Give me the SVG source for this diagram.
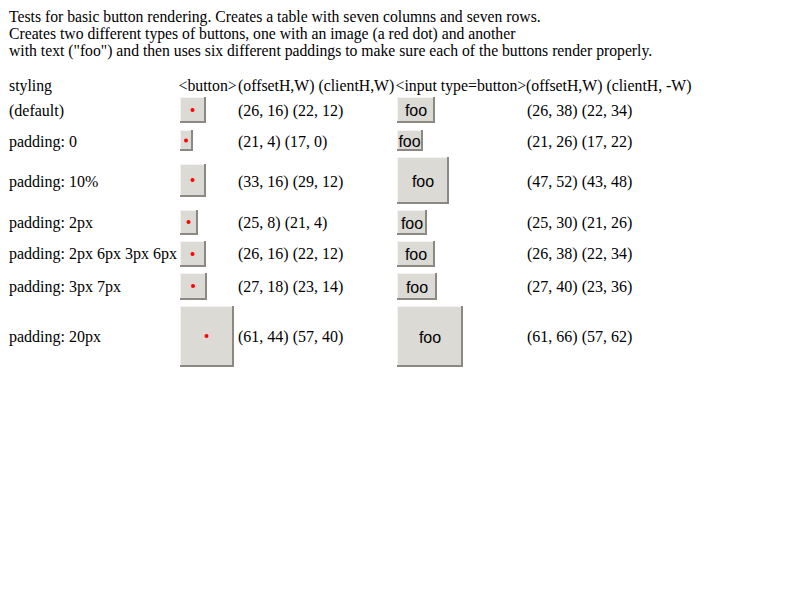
<svg xmlns="http://www.w3.org/2000/svg" width="800" height="600" viewBox="0 0 800 600">
<style>
.t{font-family:"Liberation Serif","Times New Roman",serif;font-size:16px;fill:#000}
.i{font-family:"Liberation Serif","Times New Roman",serif;font-size:15.7px;fill:#000}
.h{font-family:"Liberation Serif","Times New Roman",serif;font-size:15.8px;fill:#000}
.f{font-family:"Liberation Sans",Arial,sans-serif;font-size:16px;fill:#000;text-anchor:middle}
.dk{fill:#8c8982}
.lt{fill:#f4f3f1}
.bg{fill:#dcdad5}
.dot{fill:#ff0000}
</style>
<rect width="800" height="600" fill="#ffffff"/>
<g id="intro">
<text class="i" x="9" y="22">Tests for basic button rendering. Creates a table with seven columns and seven rows.</text>
<text class="i" x="9" y="39">Creates two different types of buttons, one with an image (a red dot) and another</text>
<text class="i" x="9" y="56">with text ("foo") and then uses six different paddings to make sure each of the buttons render properly.</text>
</g>
<g id="header">
<text class="h" x="9" y="91">styling</text>
<text class="h" x="178.5" y="91">&lt;button&gt;</text>
<text class="h" x="238" y="91">(offsetH,W) (clientH,W)</text>
<text class="h" x="395.5" y="91">&lt;input type=button&gt;</text>
<text class="h" x="526" y="91">(offsetH,W) (clientH, -W)</text>
</g>
<g id="labels">
<text class="t" x="9" y="116">(default)</text>
<text class="t" x="9" y="147">padding: 0</text>
<text class="t" x="9" y="187">padding: 10%</text>
<text class="t" x="9" y="228">padding: 2px</text>
<text class="t" x="9" y="259">padding: 2px 6px 3px 6px</text>
<text class="t" x="9" y="292">padding: 3px 7px</text>
<text class="t" x="9" y="342">padding: 20px</text>
</g>
<g id="values">
<text class="t" x="238" y="116">(26, 16) (22, 12)</text>
<text class="t" x="238" y="147">(21, 4) (17, 0)</text>
<text class="t" x="238" y="187">(33, 16) (29, 12)</text>
<text class="t" x="238" y="228">(25, 8) (21, 4)</text>
<text class="t" x="238" y="259">(26, 16) (22, 12)</text>
<text class="t" x="238" y="292">(27, 18) (23, 14)</text>
<text class="t" x="238" y="342">(61, 44) (57, 40)</text>
<text class="t" x="527" y="116">(26, 38) (22, 34)</text>
<text class="t" x="527" y="147">(21, 26) (17, 22)</text>
<text class="t" x="527" y="187">(47, 52) (43, 48)</text>
<text class="t" x="527" y="228">(25, 30) (21, 26)</text>
<text class="t" x="527" y="259">(26, 38) (22, 34)</text>
<text class="t" x="527" y="292">(27, 40) (23, 36)</text>
<text class="t" x="527" y="342">(61, 66) (57, 62)</text>
</g>
<g id="image-buttons">
<g id="btn1"><rect class="dk" x="180" y="97" width="26" height="26"/><rect class="lt" x="180" y="97" width="24" height="24"/><rect class="bg" x="181" y="98" width="23" height="23"/><circle class="dot" cx="192.5" cy="110" r="2"/></g>
<g id="btn2"><rect class="dk" x="180" y="130" width="13" height="21"/><rect class="lt" x="180" y="130" width="11" height="19"/><rect class="bg" x="181" y="131" width="10" height="18"/><circle class="dot" cx="186" cy="140.5" r="2"/></g>
<g id="btn3"><rect class="dk" x="180" y="164" width="26" height="33"/><rect class="lt" x="180" y="164" width="24" height="31"/><rect class="bg" x="181" y="165" width="23" height="30"/><circle class="dot" cx="192.5" cy="180" r="2"/></g>
<g id="btn4"><rect class="dk" x="180" y="210" width="18" height="25"/><rect class="lt" x="180" y="210" width="16" height="23"/><rect class="bg" x="181" y="211" width="15" height="22"/><circle class="dot" cx="188.5" cy="222" r="2"/></g>
<g id="btn5"><rect class="dk" x="180" y="241" width="26" height="26"/><rect class="lt" x="180" y="241" width="24" height="24"/><rect class="bg" x="181" y="242" width="23" height="23"/><circle class="dot" cx="192.5" cy="254" r="2"/></g>
<g id="btn6"><rect class="dk" x="180" y="273" width="27" height="27"/><rect class="lt" x="180" y="273" width="25" height="25"/><rect class="bg" x="181" y="274" width="24" height="24"/><circle class="dot" cx="193" cy="286" r="2"/></g>
<g id="btn7"><rect class="dk" x="180" y="306" width="54" height="61"/><rect class="lt" x="180" y="306" width="52" height="59"/><rect class="bg" x="181" y="307" width="51" height="58"/><circle class="dot" cx="206.5" cy="336" r="2"/></g>
</g>
<g id="input-buttons">
<g id="in1"><rect class="dk" x="397" y="97" width="38" height="26"/><rect class="lt" x="397" y="97" width="36" height="24"/><rect class="bg" x="398" y="98" width="35" height="23"/><text class="f" x="416" y="116">foo</text></g>
<g id="in2"><rect class="dk" x="397" y="130" width="26" height="21"/><rect class="lt" x="397" y="130" width="24" height="19"/><rect class="bg" x="398" y="131" width="23" height="18"/><text class="f" x="409.5" y="146.5">foo</text></g>
<g id="in3"><rect class="dk" x="397" y="157" width="52" height="47"/><rect class="lt" x="397" y="157" width="50" height="45"/><rect class="bg" x="398" y="158" width="49" height="44"/><text class="f" x="423" y="186.5">foo</text></g>
<g id="in4"><rect class="dk" x="397" y="210" width="30" height="25"/><rect class="lt" x="397" y="210" width="28" height="23"/><rect class="bg" x="398" y="211" width="27" height="22"/><text class="f" x="412" y="228.5">foo</text></g>
<g id="in5"><rect class="dk" x="397" y="241" width="38" height="26"/><rect class="lt" x="397" y="241" width="36" height="24"/><rect class="bg" x="398" y="242" width="35" height="23"/><text class="f" x="416" y="260">foo</text></g>
<g id="in6"><rect class="dk" x="397" y="273" width="40" height="27"/><rect class="lt" x="397" y="273" width="38" height="25"/><rect class="bg" x="398" y="274" width="37" height="24"/><text class="f" x="417" y="292.5">foo</text></g>
<g id="in7"><rect class="dk" x="397" y="306" width="66" height="61"/><rect class="lt" x="397" y="306" width="64" height="59"/><rect class="bg" x="398" y="307" width="63" height="58"/><text class="f" x="430" y="342.5">foo</text></g>
</g>
</svg>
